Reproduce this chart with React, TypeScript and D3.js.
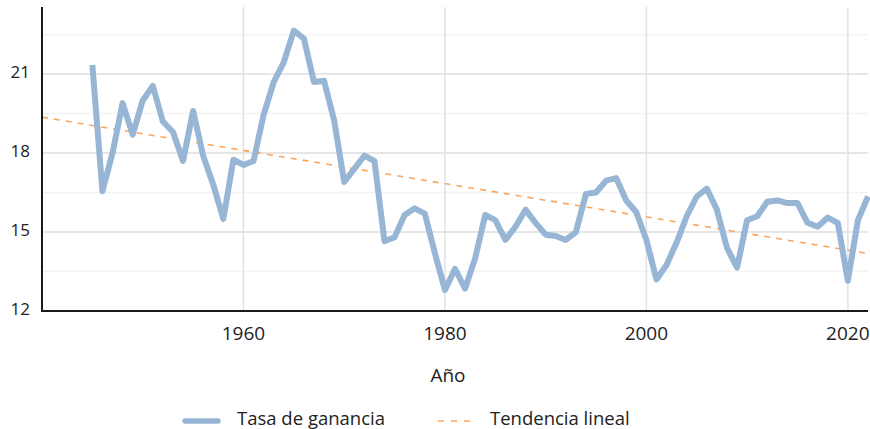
import React from 'react';
import * as d3 from 'd3';

// Tasa de ganancia, 1945-2022
const years = d3.range(1945, 2023);
const rate = [
  21.35, 16.55, 18.0, 19.9, 18.7, 20.0, 20.55, 19.2, 18.8, 17.7,
  19.6, 17.9, 16.8, 15.5, 17.75, 17.55, 17.7, 19.45, 20.7, 21.45,
  22.65, 22.35, 20.7, 20.75, 19.25, 16.9, 17.4, 17.9, 17.7, 14.65,
  14.8, 15.65, 15.9, 15.7, 14.2, 12.8, 13.6, 12.85, 14.0, 15.65,
  15.45, 14.7, 15.2, 15.85, 15.35, 14.9, 14.85, 14.7, 15.0, 16.45,
  16.5, 16.95, 17.05, 16.2, 15.75, 14.7, 13.2, 13.75, 14.6, 15.6,
  16.35, 16.65, 15.85, 14.4, 13.65, 15.45, 15.6, 16.15, 16.2, 16.1,
  16.1, 15.35, 15.2, 15.55, 15.35, 13.15, 15.45, 16.35,
];
const yTicks = [12, 15, 18, 21];
const yMinor = [13.5, 16.5, 19.5, 22.5];
const xTicks = [1960, 1980, 2000, 2020];
const xDomain = [1940, 2022];
const legendLabels = ['Tasa de ganancia', 'Tendencia lineal'];

const W = 870;
const H = 429;
const M = { left: 42, right: 2, top: 7, bottom: 118 };
const FONT = '"Open Sans", "Noto Sans", sans-serif';
const BLUE = '#97b6d5';
const ORANGE = '#fba65e';

export default function App() {
  const x = d3.scaleLinear().domain(xDomain).range([M.left, W - M.right]);
  const y = d3.scaleLinear().domain([12, 23.55]).range([H - M.bottom, M.top]);

  const data = years.map((yr, i) => ({ yr, v: rate[i] }));

  // regresión lineal por mínimos cuadrados
  const mx = d3.mean(years)!;
  const my = d3.mean(rate)!;
  const slope =
    d3.sum(data, d => (d.yr - mx) * (d.v - my)) / d3.sum(data, d => (d.yr - mx) ** 2);
  const trend = (t: number) => my + slope * (t - mx);

  const line = d3
    .line<{ yr: number; v: number }>()
    .x(d => x(d.yr))
    .y(d => y(d.v));

  const x0 = M.left;
  const x1 = W - M.right;
  const yb = H - M.bottom;

  return (
    <svg
      width={W}
      height={H}
      style={{ position: 'absolute', left: 0, top: 0, background: '#fff' }}
      fontFamily={FONT}
    >
      {yMinor.map(t => (
        <line key={'m' + t} x1={x0} x2={x1} y1={y(t)} y2={y(t)} stroke="#f3f3f3" strokeWidth={1.5} />
      ))}
      {yTicks.map(t => (
        <line key={'g' + t} x1={x0} x2={x1} y1={y(t)} y2={y(t)} stroke="#dedede" strokeWidth={1.5} />
      ))}
      {xTicks.map(t => (
        <line key={'v' + t} x1={x(t)} x2={x(t)} y1={M.top} y2={yb} stroke="#e2e2e2" strokeWidth={1.5} />
      ))}

      <line
        x1={x(xDomain[0])}
        x2={x(xDomain[1])}
        y1={y(trend(xDomain[0]))}
        y2={y(trend(xDomain[1]))}
        stroke={ORANGE}
        strokeWidth={1.6}
        strokeDasharray="6 6"
      />
      <path
        d={line(data) || ''}
        fill="none"
        stroke={BLUE}
        strokeWidth={6}
        strokeLinejoin="round"
      />

      <line x1={x0} x2={x0} y1={M.top} y2={yb + 1} stroke="#1a1a1a" strokeWidth={2} />
      <line x1={x0 - 1} x2={x1} y1={yb} y2={yb} stroke="#1a1a1a" strokeWidth={2} />

      {yTicks.map(t => (
        <text key={'yl' + t} x={30} y={y(t) + 3.5} textAnchor="end" fontSize={17} fill="#222">
          {t}
        </text>
      ))}
      {xTicks.map(t => (
        <text key={'xl' + t} x={x(t)} y={340} textAnchor="middle" fontSize={19} fill="#222">
          {t}
        </text>
      ))}
      <text x={448} y={382} textAnchor="middle" fontSize={19} fill="#222">
        Año
      </text>

      <g transform="translate(0,421)">
        <line x1={185} x2={218} y1={0} y2={0} stroke={BLUE} strokeWidth={5.5} strokeLinecap="round" />
        <text x={237} y={4} fontSize={18.5} fill="#222">
          {legendLabels[0]}
        </text>
        <line x1={438} x2={472} y1={0} y2={0} stroke={ORANGE} strokeWidth={1.6} strokeDasharray="6 7" />
        <text x={490} y={4} fontSize={18.5} fill="#222">
          {legendLabels[1]}
        </text>
      </g>
    </svg>
  );
}
